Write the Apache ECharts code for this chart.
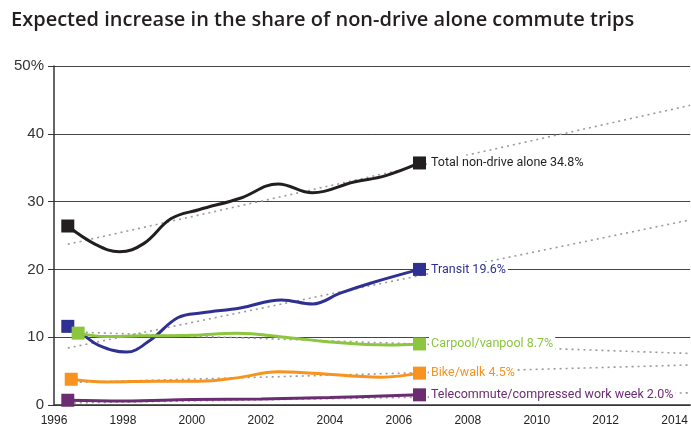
<!DOCTYPE html>
<html><head><meta charset="utf-8">
<script src="https://cdn.jsdelivr.net/npm/echarts@6/dist/echarts.min.js"></script>
<style>html,body{margin:0;padding:0;background:#fff}#c{width:691px;height:430px}</style>
</head><body><div id="c"></div>
<script>
// Series data (year, share %)
const totalX = [1996.4, 1997.2, 1997.9, 1998.6, 1999.4, 2000.2, 2001.4, 2002.5, 2003.5, 2004.7, 2005.6, 2006.6];
const totalY = [26.4, 23.7, 22.6, 23.8, 27.5, 28.8, 30.5, 32.6, 31.3, 32.9, 33.8, 35.7];
const transitX = [1996.4, 1996.8, 1997.3, 1998.1, 1998.8, 1999.6, 2000.3, 2001.4, 2002.6, 2003.5, 2004.3, 2005.2, 2006.6];
const transitY = [11.6, 10.5, 8.8, 7.8, 9.6, 12.9, 13.6, 14.3, 15.5, 14.9, 16.5, 18.0, 20.0];
const carpoolX = [1996.7, 1997.5, 1998.5, 2000.0, 2001.3, 2002.7, 2004.0, 2005.7, 2006.6];
const carpoolY = [10.6, 10.1, 10.2, 10.3, 10.6, 10.0, 9.3, 8.85, 9.0];
const bikeX = [1996.5, 1997.5, 1999.0, 2000.2, 2001.3, 2002.5, 2003.5, 2005.5, 2006.6];
const bikeY = [3.8, 3.4, 3.5, 3.5, 4.0, 4.9, 4.7, 4.1, 4.7];
const teleX = [1996.4, 1998.0, 2000.0, 2002.0, 2004.0, 2006.6];
const teleY = [0.7, 0.6, 0.8, 0.9, 1.1, 1.5];
// Trend lines: start/end years and values
const trendX = [1996.4, 2014.45];
const totalTrend = [23.7, 44.2];
const transitTrend = [8.4, 27.3];
const carpoolTrend = [10.8, 7.6];
const bikeTrend = [3.3, 5.9];
const teleTrend = [0.3, 1.8];
// Labels
const seriesNames = ['Total non-drive alone 34.8%', 'Transit 19.6%', 'Carpool/vanpool 8.7%', 'Bike/walk 4.5%', 'Telecommute/compressed work week 2.0%'];
const colors = ['#231f20', '#2e3192', '#8cc63f', '#f7931e', '#6b2c72'];
const yTicks = [0, 10, 20, 30, 40, 50];

function mkData(xs, ys) {
  return xs.map((x, i) => {
    const edge = i === 0 || i === xs.length - 1;
    return { value: [x, ys[i]], symbol: edge ? 'rect' : 'none' };
  });
}
function lineSeries(xs, ys, idx) {
  const d = mkData(xs, ys);
  d[d.length - 1].label = {
    show: true, position: 'right', distance: 3,
    formatter: seriesNames[idx], color: colors[idx],
    fontFamily: 'Roboto', fontSize: 12.5,
    backgroundColor: '#fff', padding: [1, 2, 1, 2]
  };
  return {
    type: 'line', name: seriesNames[idx], data: d, smooth: 0.4,
    symbolSize: 13, z: 5 + idx,
    lineStyle: { color: colors[idx], width: 3 },
    itemStyle: { color: colors[idx] },
    silent: true, animation: false
  };
}
function trendSeries(vals) {
  return {
    type: 'line', data: trendX.map((x, i) => [x, vals[i]]), showSymbol: false, symbol: 'none',
    lineStyle: { color: '#9a9a9a', width: 1.6, type: [2, 4] }, z: 3, silent: true, animation: false
  };
}

const chart = echarts.init(document.getElementById('c'), null, { renderer: 'canvas' });
chart.setOption({
  backgroundColor: '#fff',
  animation: false,
  title: {
    text: 'Expected increase in the share of non-drive alone commute trips',
    left: 6, top: 5,
    textStyle: { fontFamily: 'Open Sans', fontWeight: 600, fontSize: 20, color: '#231f20' }
  },
  grid: { left: 54, right: 0, top: 66, bottom: 25, containLabel: false },
  xAxis: {
    type: 'value', min: 1996, max: 2014.45, interval: 2,
    axisLine: { show: true, lineStyle: { color: '#333', width: 1.5 } },
    axisTick: { show: false },
    splitLine: { show: false },
    axisLabel: {
      showMaxLabel: false, margin: 10,
      formatter: v => (Number.isInteger(v) ? String(v) : ''),
      fontFamily: 'Liberation Sans', fontSize: 12, color: '#222'
    }
  },
  yAxis: {
    type: 'value', min: yTicks[0], max: yTicks[yTicks.length - 1], interval: 10,
    axisLine: { show: true, lineStyle: { color: '#333', width: 1.5 } },
    axisTick: { show: true, length: 6, lineStyle: { color: '#333' } },
    splitLine: { show: true, lineStyle: { color: '#444', width: 1 } },
    axisLabel: {
      margin: 10,
      formatter: v => (v === 50 ? '50%' : String(v)),
      fontFamily: 'Liberation Sans', fontSize: 15, color: '#333'
    }
  },
  series: [
    trendSeries(totalTrend), trendSeries(transitTrend), trendSeries(carpoolTrend),
    trendSeries(bikeTrend), trendSeries(teleTrend),
    lineSeries(totalX, totalY, 0),
    lineSeries(transitX, transitY, 1),
    lineSeries(carpoolX, carpoolY, 2),
    lineSeries(bikeX, bikeY, 3),
    lineSeries(teleX, teleY, 4)
  ]
});
</script></body></html>
